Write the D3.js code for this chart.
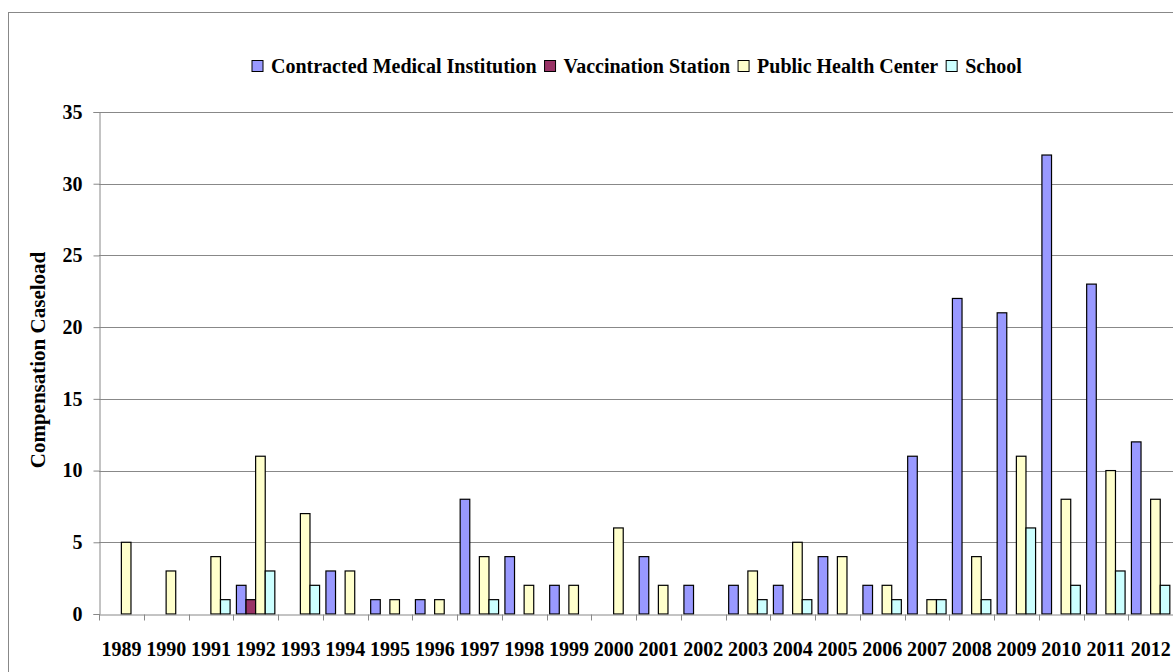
<!DOCTYPE html>
<html>
<head>
<meta charset="utf-8">
<script src="https://cdn.jsdelivr.net/npm/d3@7"></script>
<style>
  html, body { margin: 0; padding: 0; background: #fff; }
  svg { display: block; }
  text { font-family: "Liberation Serif", "Times New Roman", serif; font-weight: bold; fill: #000; }
</style>
</head>
<body>
<svg id="chart" width="1173" height="672"></svg>
<script>
// Yearly compensation caseload by reporting institution type
const years = ["1989","1990","1991","1992","1993","1994","1995","1996","1997","1998","1999","2000",
               "2001","2002","2003","2004","2005","2006","2007","2008","2009","2010","2011","2012"];
const seriesNames = ["Contracted Medical Institution", "Vaccination Station", "Public Health Center", "School"];
const contracted  = [0,0,0,2,0,3,1,1,8,4,2,0,4,2,2,2,4,2,11,22,21,32,23,12];
const vaccination = [0,0,0,1,0,0,0,0,0,0,0,0,0,0,0,0,0,0,0,0,0,0,0,0];
const publicHealth= [5,3,4,11,7,3,1,1,4,2,2,6,2,0,3,5,4,2,1,4,11,8,10,8];
const school      = [0,0,1,3,2,0,0,0,1,0,0,0,0,0,1,1,0,1,1,1,6,2,3,2];
const yTicks = [0,5,10,15,20,25,30,35];
const colors = ["#9999FF", "#993366", "#FFFFCC", "#CCFFFF"];

const seriesValues = [contracted, vaccination, publicHealth, school];

const svg = d3.select("#chart");
const W = 1173, H = 672;
const plotLeft = 99, plotRight = 1173, plotTop = 112, plotBottom = 614;

// outer chart frame
svg.append("rect")
  .attr("x", 8.5).attr("y", 12.5)
  .attr("width", W + 10).attr("height", H + 10)
  .attr("fill", "#fff").attr("stroke", "#888").attr("stroke-width", 1);

const x = d3.scaleBand().domain(years).range([plotLeft, plotRight]).paddingInner(0).paddingOuter(0);
const xInner = d3.scaleBand().domain(d3.range(seriesNames.length))
  .range([0, x.bandwidth()]).paddingInner(0).paddingOuter(0.33);
const y = d3.scaleLinear().domain([0, 35]).range([plotBottom, plotTop]);

// horizontal gridlines
svg.append("g").selectAll("line").data(yTicks.filter(d => d > 0)).join("line")
  .attr("x1", plotLeft).attr("x2", plotRight)
  .attr("y1", d => Math.round(y(d)) + 0.5).attr("y2", d => Math.round(y(d)) + 0.5)
  .attr("stroke", "#888").attr("stroke-width", 1);

// bars
const bars = [];
seriesValues.forEach((vals, si) => {
  vals.forEach((v, i) => { if (v > 0) bars.push({ year: years[i], s: si, v }); });
});
svg.append("g").selectAll("rect").data(bars).join("rect")
  .attr("x", d => x(d.year) + xInner(d.s))
  .attr("y", d => y(d.v))
  .attr("width", xInner.bandwidth())
  .attr("height", d => y(0) - y(d.v))
  .attr("fill", d => colors[d.s])
  .attr("stroke", "#000").attr("stroke-width", 1.2);

// y axis
const yAxis = svg.append("g").attr("transform", `translate(${plotLeft + 0.5},0)`)
  .call(d3.axisLeft(y).tickValues(yTicks).tickSize(6).tickPadding(11).tickFormat(d3.format("d")));
yAxis.select(".domain").attr("stroke", "#888");
yAxis.selectAll(".tick line").attr("stroke", "#888");
yAxis.selectAll(".tick text").attr("font-size", 20).attr("font-family", null).attr("fill", "#000");

// x axis
const xAxis = svg.append("g").attr("transform", `translate(0,${Math.round(y(0)) + 0.5})`)
  .call(d3.axisBottom(x).tickSize(0).tickPadding(27));
xAxis.select(".domain").attr("stroke", "#888");
xAxis.selectAll(".tick text").attr("font-size", 20).attr("font-family", null).attr("fill", "#000");
// category separators
xAxis.append("g").selectAll("line").data(years.concat(["end"])).join("line")
  .attr("x1", (d, i) => Math.round(plotLeft + i * x.bandwidth()) + 0.5)
  .attr("x2", (d, i) => Math.round(plotLeft + i * x.bandwidth()) + 0.5)
  .attr("y1", 0).attr("y2", 6).attr("stroke", "#888");

// y axis title
svg.append("text")
  .attr("transform", `translate(45,360) rotate(-90)`)
  .attr("text-anchor", "middle")
  .attr("font-size", 21)
  .text("Compensation Caseload");

// legend
const legend = svg.append("g");
const items = legend.selectAll("g").data(seriesNames).join("g");
items.append("rect").attr("width", 11).attr("height", 11).attr("y", -5.5)
  .attr("fill", (d, i) => colors[i]).attr("stroke", "#000").attr("stroke-width", 1);
items.append("text").attr("x", 19).attr("dy", "0.35em").attr("font-size", 20).text(d => d);
let cx = 0;
items.each(function () {
  d3.select(this).attr("transform", `translate(${cx},0)`);
  cx += 19 + d3.select(this).select("text").node().getComputedTextLength() + 8;
});
const legendW = cx - 8;
legend.attr("transform", `translate(${Math.round(637 - legendW / 2)},66)`);
</script>
</body>
</html>
